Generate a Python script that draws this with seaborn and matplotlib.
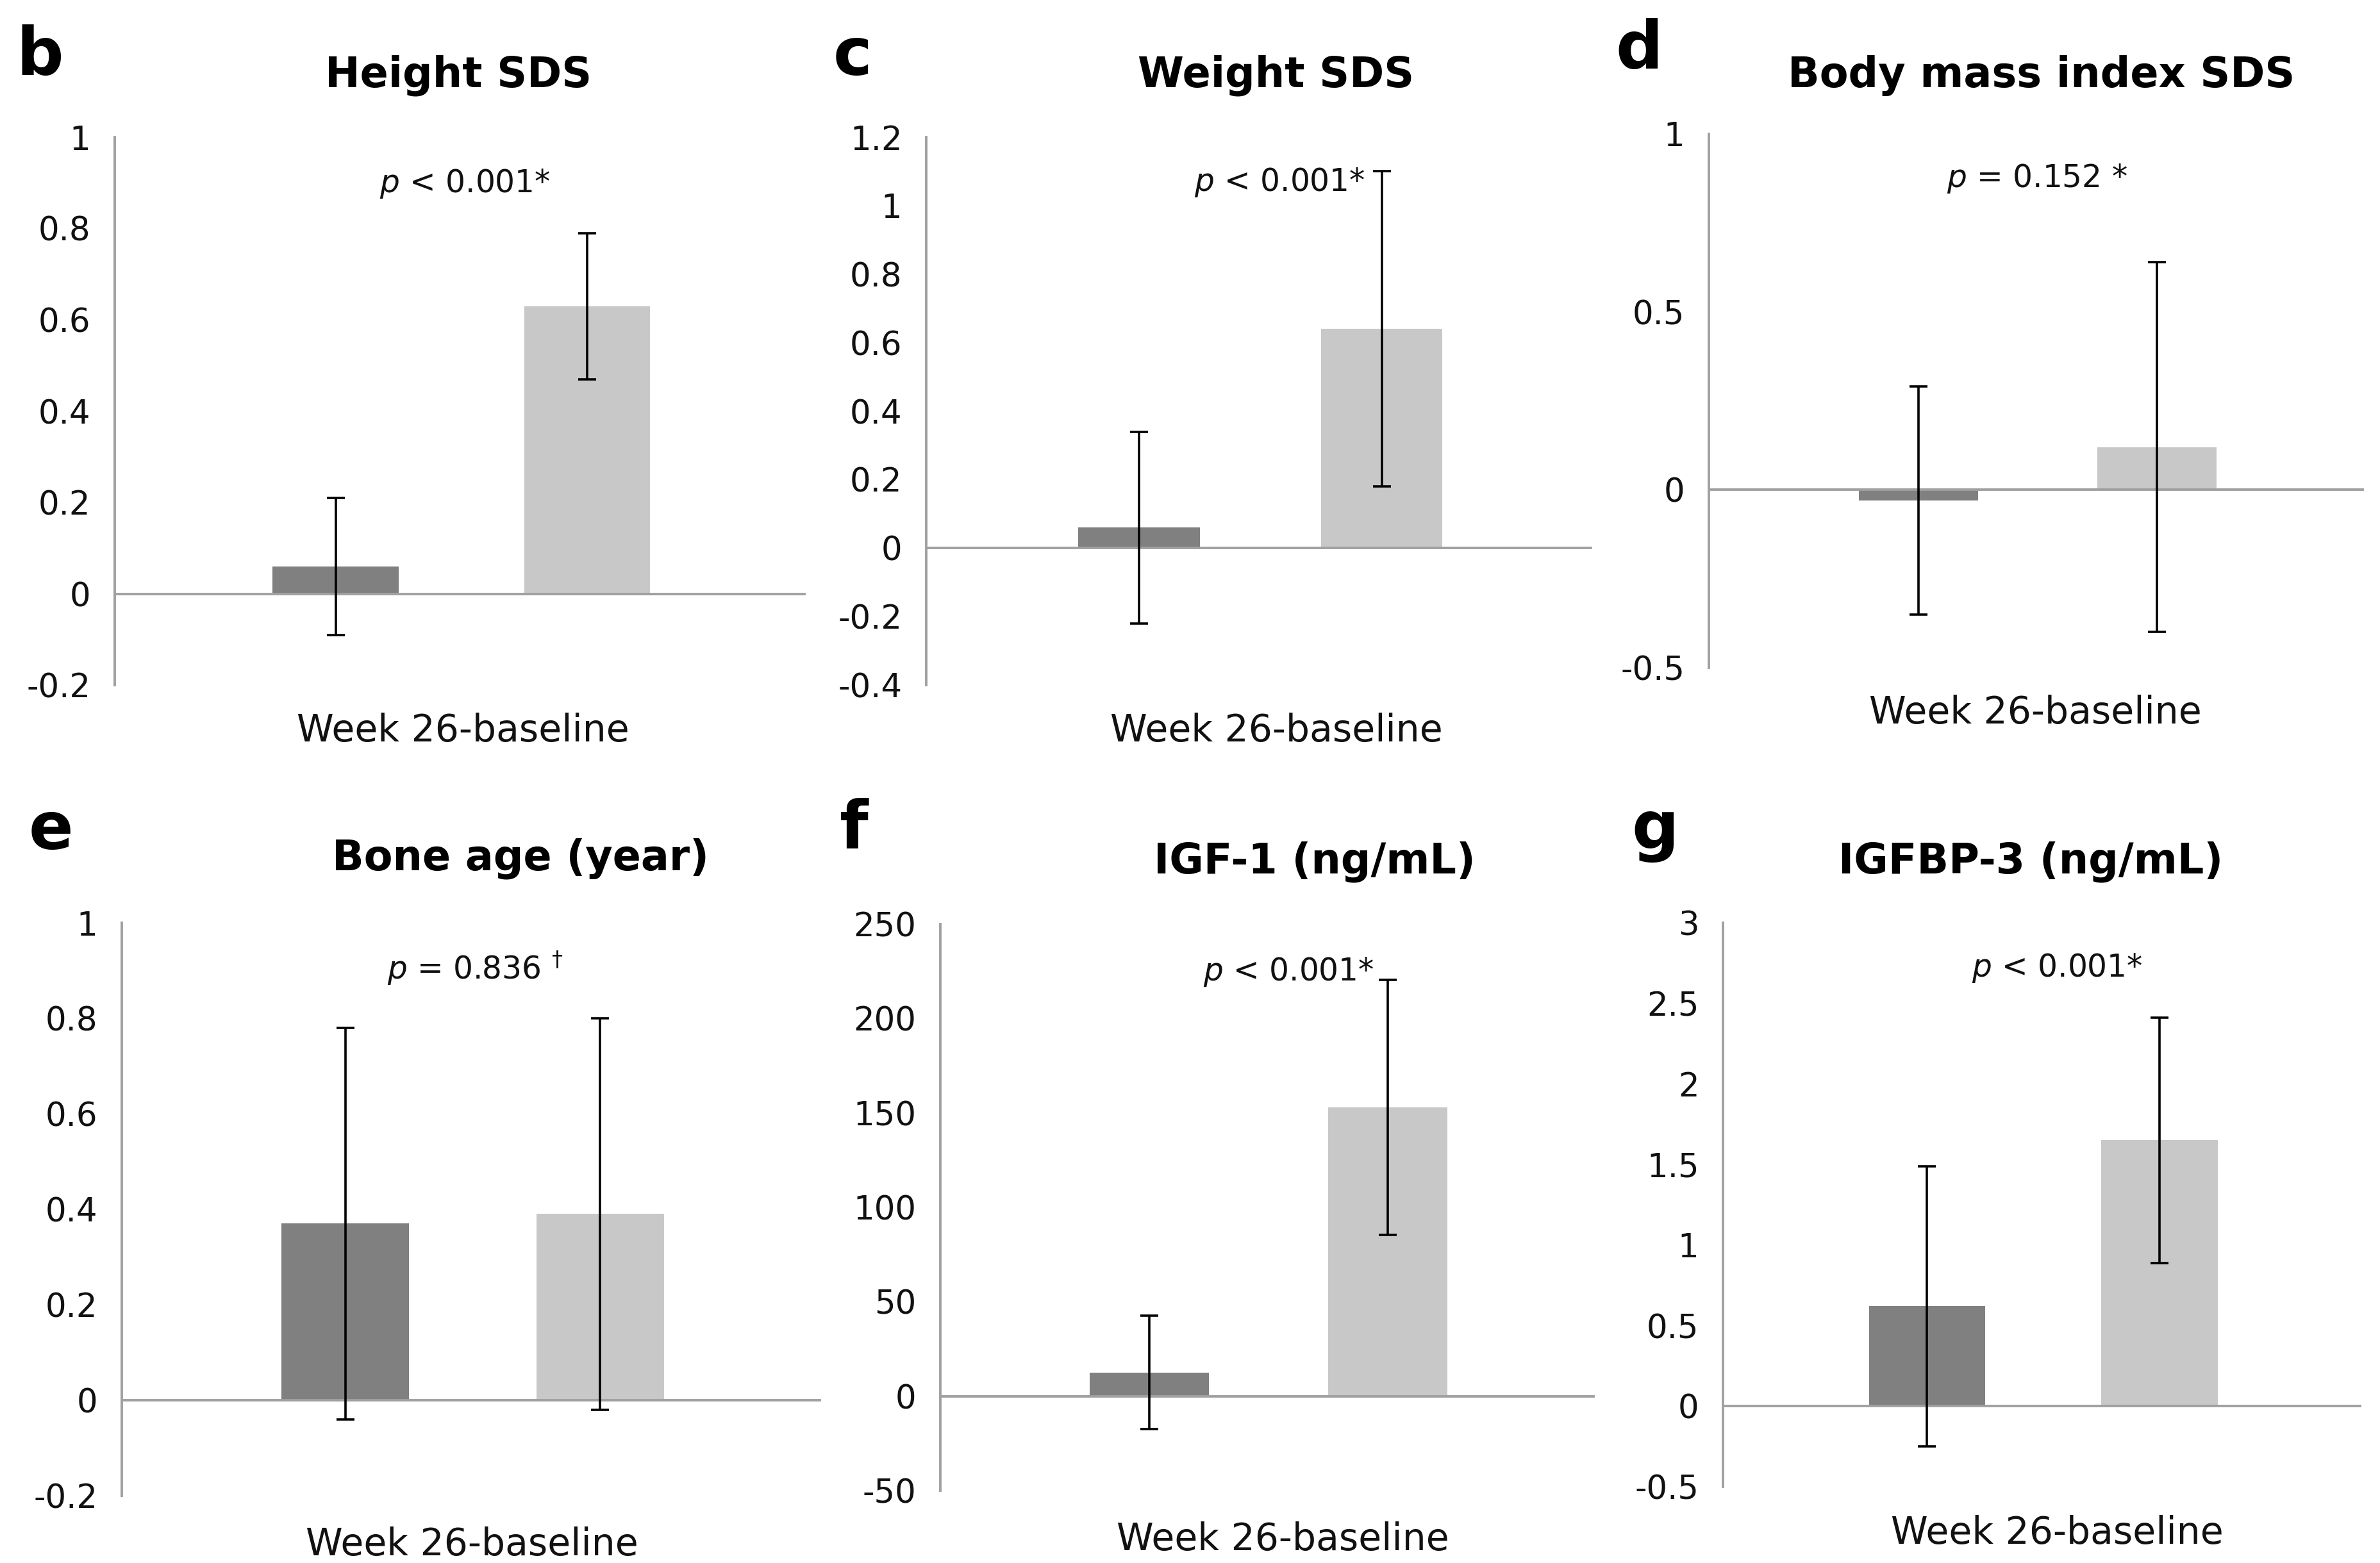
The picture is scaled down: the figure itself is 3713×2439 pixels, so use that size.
import numpy as np
import pandas as pd
import matplotlib
matplotlib.use("Agg")
import matplotlib.pyplot as plt
import seaborn as sns

# panel data: mean change and SD for the two groups
letters = ["b", "c", "d", "e", "f", "g"]
titles = ["Height SDS", "Weight SDS", "Body mass index SDS",
          "Bone age (year)", "IGF-1 (ng/mL)", "IGFBP-3 (ng/mL)"]
group1_mean = [0.06, 0.06, -0.03, 0.37, 12.5, 0.62]
group1_sd = [0.15, 0.28, 0.32, 0.41, 30.0, 0.87]
group2_mean = [0.63, 0.64, 0.12, 0.39, 153.0, 1.65]
group2_sd = [0.16, 0.46, 0.52, 0.41, 67.5, 0.76]
groups = ["Group 1", "Group 2"]
category = "Week 26-baseline"
p_texts = [r"$\mathit{p}$ < 0.001*", r"$\mathit{p}$ < 0.001*", r"$\mathit{p}$ = 0.152 *",
           r"$\mathit{p}$ = 0.836 $^{\dagger}$", r"$\mathit{p}$ < 0.001*", r"$\mathit{p}$ < 0.001*"]
yticks = [
    [-0.2, 0, 0.2, 0.4, 0.6, 0.8, 1],
    [-0.4, -0.2, 0, 0.2, 0.4, 0.6, 0.8, 1, 1.2],
    [-0.5, 0, 0.5, 1],
    [-0.2, 0, 0.2, 0.4, 0.6, 0.8, 1],
    [-50, 0, 50, 100, 150, 200, 250],
    [-0.5, 0, 0.5, 1, 1.5, 2, 2.5, 3],
]

W, H = 3713, 2439
# axes boxes in pixels: left, right, top, bottom
boxes = [(179, 1255, 214, 1069), (1445, 2482, 214, 1069), (2666, 3686, 209, 1042),
         (190, 1279, 1440, 2334), (1467, 2486, 1442, 2326), (2688, 3682, 1440, 2320)]
title_pos = [(715, 118), (1991, 118), (3185, 118), (812, 1340), (2051, 1345), (3168, 1345)]
letter_pos = [(25, 88), (1300, 88), (2520, 78), (45, 1296), (1310, 1296), (2545, 1296)]
p_pos = [(725, 287), (1996, 284), (3178, 279), (741, 1511), (2010, 1516), (3209, 1511)]
xlab_pos = [(722, 1141), (1991, 1141), (3175, 1113), (736, 2410), (2001, 2403), (3209, 2392)]

sns.set_theme(style="white")
plt.rcParams["font.family"] = ["DejaVu Sans"]
plt.rcParams["mathtext.fontset"] = "dejavusans"
plt.rcParams["axes.unicode_minus"] = False

palette = {"Group 1": "#808080", "Group 2": "#c8c8c8"}
spine_col = "#a0a0a0"
txt_col = "#111111"

fig = plt.figure(figsize=(W / 100, H / 100), dpi=100)

for i in range(6):
    l, r, t, b = boxes[i]
    ax = fig.add_axes([l / W, 1 - b / H, (r - l) / W, (b - t) / H])
    df = pd.DataFrame({"cat": [category, category], "group": groups,
                       "val": [group1_mean[i], group2_mean[i]]})
    sns.barplot(data=df, x="cat", y="val", hue="group", palette=palette,
                width=0.8, gap=0.5, errorbar=None, legend=False, ax=ax,
                saturation=1, linewidth=0)
    # error bars (mean +- SD) on the bar centres
    xs = [p.get_x() + p.get_width() / 2 for p in ax.patches]
    ax.errorbar(xs, [group1_mean[i], group2_mean[i]], yerr=[group1_sd[i], group2_sd[i]],
                fmt="none", ecolor="black", elinewidth=2.6, capsize=10, capthick=2.6, zorder=5)

    ax.set_xlim(-0.551, 0.545)
    ax.set_ylim(yticks[i][0], yticks[i][-1])
    ax.set_yticks(yticks[i])
    ax.set_yticklabels([f"{v:g}" for v in yticks[i]], fontsize=37, color=txt_col)
    ax.set_xlabel("")
    ax.set_ylabel("")
    if i == 2:
        ax.set_xticks([0.545])
        ax.tick_params(axis="x", length=16, width=3, color=spine_col, direction="out",
                       labelbottom=False)
    else:
        ax.set_xticks([])
    ax.spines["top"].set_visible(False)
    ax.spines["right"].set_visible(False)
    ax.spines["bottom"].set_position(("data", 0))
    for s in ["left", "bottom"]:
        ax.spines[s].set_color(spine_col)
        ax.spines[s].set_linewidth(2.8)
    ax.tick_params(axis="y", length=11, width=2.8, color=spine_col, direction="out", pad=16)

    fig.text(title_pos[i][0] / W, 1 - title_pos[i][1] / H, titles[i], fontsize=47,
             fontweight="bold", ha="center", va="center", color="black")
    fig.text(letter_pos[i][0] / W, 1 - letter_pos[i][1] / H, letters[i], fontsize=74,
             fontweight="bold", ha="left", va="center", color="black")
    fig.text(p_pos[i][0] / W, 1 - p_pos[i][1] / H, p_texts[i], fontsize=35,
             ha="center", va="center", color=txt_col)
    fig.text(xlab_pos[i][0] / W, 1 - xlab_pos[i][1] / H, category, fontsize=42,
             ha="center", va="center", color=txt_col)

fig.savefig("out.png", dpi=100, facecolor="white")
